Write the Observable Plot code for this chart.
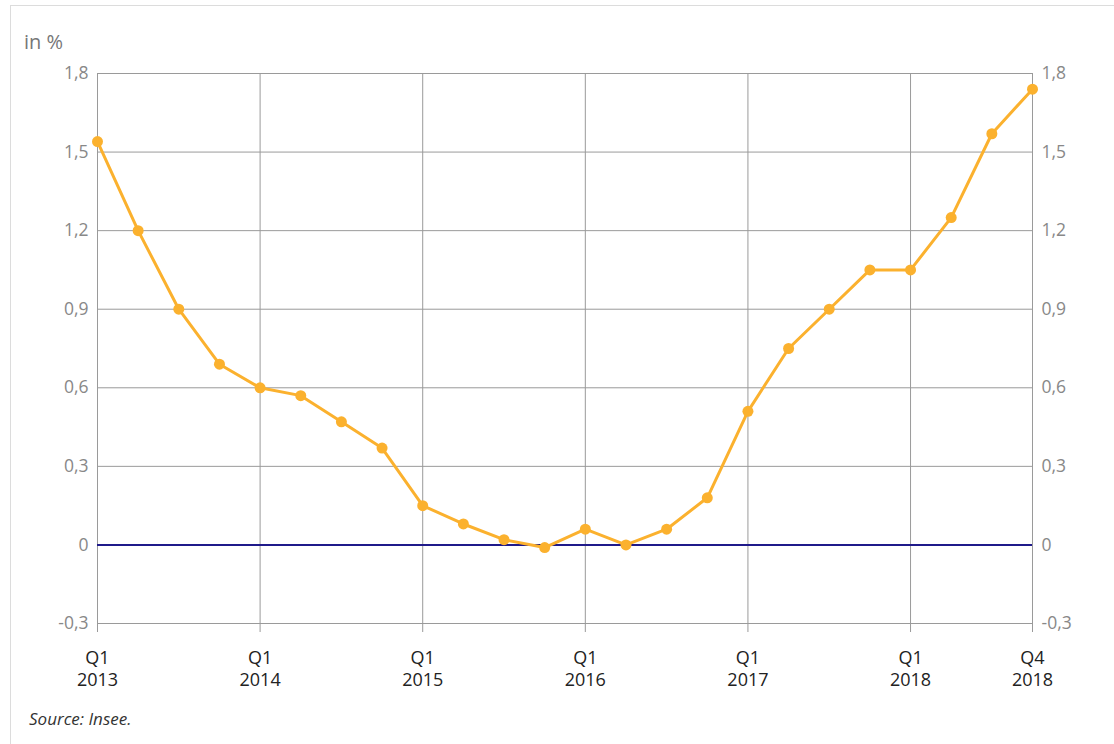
<!DOCTYPE html>
<html>
<head>
<meta charset="utf-8">
<script src="https://cdn.jsdelivr.net/npm/d3@7"></script>
<script src="https://cdn.jsdelivr.net/npm/@observablehq/plot@0.6"></script>
<style>
  html, body { margin: 0; padding: 0; background: #fff; }
  body { width: 1114px; height: 744px; position: relative; overflow: hidden; font-family: "Open Sans", sans-serif; }
  #frame { position: absolute; left: 10px; top: 5px; width: 1200px; height: 800px; border-left: 1px solid #dcdcdc; border-top: 1px solid #dcdcdc; }
  #unit { position: absolute; left: 24px; top: 28px; font-size: 20px; color: #777; }
  #source { position: absolute; left: 29px; top: 707px; font-size: 17px; font-style: italic; color: #333; }
  #chart { position: absolute; left: 0; top: 0; }
</style>
</head>
<body>
<div id="frame"></div>
<div id="chart"></div>
<div id="unit">in %</div>
<div id="source">Source: Insee.</div>
<script>
const quarters = ["Q1 2013","Q2 2013","Q3 2013","Q4 2013","Q1 2014","Q2 2014","Q3 2014","Q4 2014",
  "Q1 2015","Q2 2015","Q3 2015","Q4 2015","Q1 2016","Q2 2016","Q3 2016","Q4 2016",
  "Q1 2017","Q2 2017","Q3 2017","Q4 2017","Q1 2018","Q2 2018","Q3 2018","Q4 2018"];
const values = [1.54, 1.2, 0.9, 0.69, 0.6, 0.57, 0.47, 0.37,
  0.15, 0.08, 0.02, -0.01, 0.06, 0.0, 0.06, 0.18,
  0.51, 0.75, 0.9, 1.05, 1.05, 1.25, 1.57, 1.74];
const xTickIdx = [0, 4, 8, 12, 16, 20, 23];
const yTicks = [-0.3, 0, 0.3, 0.6, 0.9, 1.2, 1.5, 1.8];

const data = quarters.map((q, i) => ({i, q, v: values[i]}));
const xLabel = i => quarters[i].split(" ").join("\n");
const yFmt = d => d3.format(".1~f")(d).replace(".", ",").replace("\u2212", "-");

const chart = Plot.plot({
  width: 1114,
  height: 744,
  marginLeft: 97,
  marginRight: 82,
  marginTop: 73,
  marginBottom: 121,
  style: { fontFamily: "Open Sans, sans-serif", background: "transparent", overflow: "visible" },
  x: { type: "linear", domain: [0, 23] },
  y: { domain: [-0.3, 1.8] },
  marks: [
    Plot.gridY(yTicks, { stroke: "#9a9a9a", strokeOpacity: 1, strokeWidth: 1 }),
    Plot.gridX(xTickIdx, { stroke: "#9a9a9a", strokeOpacity: 1, strokeWidth: 1 }),
    Plot.axisX(xTickIdx, { tickFormat: xLabel, tickSize: 9, tickPadding: 16, stroke: "#9a9a9a", fill: "#222", fontSize: 18, lineHeight: 1.22, label: null }),
    Plot.axisY(yTicks, { anchor: "left", tickFormat: yFmt, tickSize: 0, tickPadding: 9, fill: "#888", fontSize: 17.5, label: null }),
    Plot.axisY(yTicks, { anchor: "right", tickFormat: yFmt, tickSize: 0, tickPadding: 9, fill: "#888", fontSize: 17.5, label: null }),
    Plot.ruleY([0], { stroke: "#1f1a8a", strokeWidth: 2 }),
    Plot.line(data, { x: "i", y: "v", stroke: "#fbb12e", strokeWidth: 3 }),
    Plot.dot(data, { x: "i", y: "v", fill: "#fbb12e", r: 5.5 })
  ]
});
document.getElementById("chart").appendChild(chart);
</script>
</body>
</html>
